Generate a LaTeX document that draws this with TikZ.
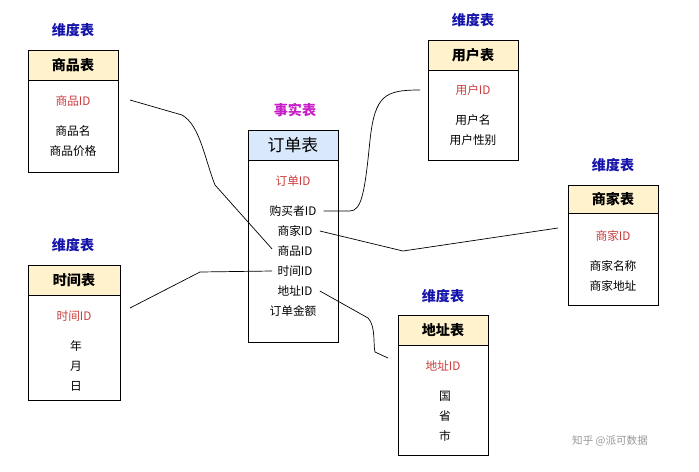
\documentclass[tikz,border=0pt]{standalone}
\usepackage{fontspec}
\setmainfont{Noto Sans CJK SC}
\usetikzlibrary{positioning,calc}
\definecolor{dimhead}{RGB}{255,242,204}
\definecolor{facthead}{RGB}{218,232,252}
\definecolor{keyred}{RGB}{205,60,60}
\definecolor{dimblue}{RGB}{20,20,170}
\definecolor{factpink}{RGB}{200,30,200}
\tikzset{
  tabbody/.style={draw=black, line width=0.8pt},
  headtext/.style={font=\large\bfseries},
  keytext/.style={text=keyred, font=\normalsize},
  rowtext/.style={font=\normalsize, inner sep=1pt},
  kindlabel/.style={text=dimblue, font=\large\bfseries},
  link/.style={line width=0.6pt}
}
\begin{document}
\begin{tikzpicture}[x=0.03cm, y=-0.03cm]
\useasboundingbox (0,0) rectangle (699,471);
% table frames: header and body
\def\tabbox#1#2#3#4#5#6{%
  \filldraw[tabbody, fill=white] (#1,#2) rectangle (#3,#5);
  \filldraw[tabbody, fill=#6] (#1,#2) rectangle (#3,#4);}
\tabbox{28}{50}{118}{80}{172}{dimhead}
\tabbox{248}{130}{338}{160}{342}{facthead}
\tabbox{428}{40}{518}{70}{160}{dimhead}
\tabbox{568}{185}{658}{213}{305}{dimhead}
\tabbox{28}{265}{120}{295}{400}{dimhead}
\tabbox{398}{315}{488}{345}{455}{dimhead}

% kind labels
\node[kindlabel] (kgoods) at (73,30) {维度表};
\node[kindlabel, text=factpink] (kfact) at (295,110) {事实表};
\node[kindlabel] (kuser) at (473,20) {维度表};
\node[kindlabel] (kshop) at (613,165) {维度表};
\node[kindlabel] (ktime) at (73,245) {维度表};
\node[kindlabel] (kaddr) at (443,296) {维度表};

% headers
\node[headtext] (hgoods) at (73,65) {商品表};
\node[font=\Large] (horder) at (293,145) {订单表};
\node[headtext] (huser) at (473,55) {用户表};
\node[headtext] (hshop) at (613,199) {商家表};
\node[headtext] (htime) at (74,280) {时间表};
\node[headtext] (haddr) at (443,330) {地址表};

% 商品表
\node[keytext] (gid) at (73,101) {商品ID};
\node[rowtext] (gname) at (73,131) {商品名};
\node[rowtext] (gprice) at (73,151) {商品价格};
% 订单表
\node[keytext] (oid) at (293,181) {订单ID};
\node[rowtext] (obuyer) at (293,211) {购买者ID};
\node[rowtext] (oshop) at (295,231) {商家ID};
\node[rowtext] (ogoods) at (295,251) {商品ID};
\node[rowtext] (otime) at (295,271) {时间ID};
\node[rowtext] (oaddr) at (295,291) {地址ID};
\node[rowtext] (oamount) at (293,311) {订单金额};
% 用户表
\node[keytext] (uid) at (473,90) {用户ID};
\node[rowtext] (uname) at (473,120) {用户名};
\node[rowtext] (usex) at (473,140) {用户性别};
% 商家表
\node[keytext] (sid) at (613,236) {商家ID};
\node[rowtext] (sname) at (613,266) {商家名称};
\node[rowtext] (saddr) at (613,286) {商家地址};
% 时间表
\node[keytext] (tid) at (74,316) {时间ID};
\node[rowtext] (tyear) at (76,346) {年};
\node[rowtext] (tmonth) at (76,366) {月};
\node[rowtext] (tday) at (76,386) {日};
% 地址表
\node[keytext] (aid) at (443,366) {地址ID};
\node[rowtext] (acountry) at (445,396) {国};
\node[rowtext] (aprov) at (445,416) {省};
\node[rowtext] (acity) at (445,436) {市};

% free ends of the links
\coordinate (gend) at (130,100);
\coordinate (uend) at (420,90);
\coordinate (send) at (558,228);
\coordinate (tend) at (130,308);
\coordinate (aend) at (388,358);

% links
\draw[link] (gend) -- (182,115) .. controls (200,125) and (205,160) .. (215,185) -- ($(ogoods.west)+(-4,-2)$);
\draw[link] (tend) -- (200,272) -- ($(otime.west)+(-4,0)$);
\draw[link] ($(obuyer.east)+(6,0)$) -- (350,211) .. controls (362,211) and (365,190) .. (370,140) .. controls (375,95) and (385,90) .. (uend);
\draw[link] ($(oshop.east)+(6,0)$) -- (403,251) -- (send);
\draw[link] ($(oaddr.east)+(6,0)$) -- (368,318) .. controls (376,326) and (373,345) .. (375,352) -- (aend);

\node[text=gray!80, font=\small] (zhihu) at (610,441) {知乎 @派可数据};
\end{tikzpicture}
\end{document}
